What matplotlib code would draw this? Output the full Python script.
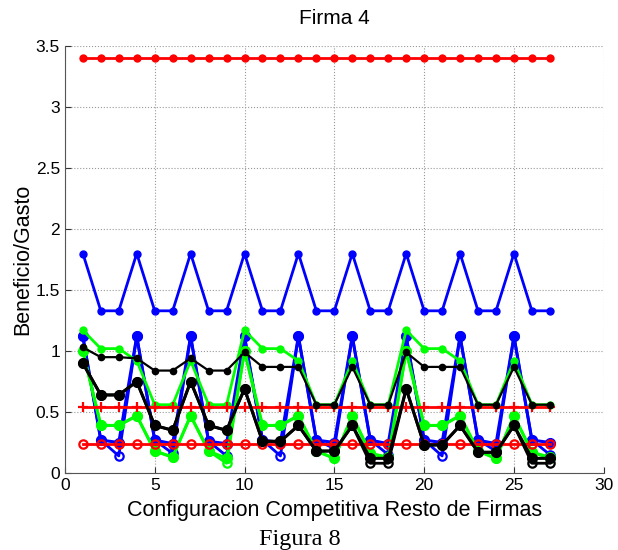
import numpy as np
import matplotlib
matplotlib.use("Agg")
import matplotlib.pyplot as plt
from matplotlib.ticker import FormatStrFormatter, MultipleLocator

plt.rcParams['font.family'] = 'sans-serif'
plt.rcParams['font.sans-serif'] = ['Liberation Sans', 'DejaVu Sans']

# configuraciones competitivas del resto de firmas
config = np.arange(1, 28)

red_top = [3.4, 3.4, 3.4, 3.4, 3.4, 3.4, 3.4, 3.4, 3.4, 3.4, 3.4, 3.4, 3.4, 3.4,
           3.4, 3.4, 3.4, 3.4, 3.4, 3.4, 3.4, 3.4, 3.4, 3.4, 3.4, 3.4, 3.4]
red_plus = [0.54, 0.54, 0.54, 0.54, 0.54, 0.54, 0.54, 0.54, 0.54, 0.54, 0.54, 0.54, 0.54, 0.54,
            0.54, 0.54, 0.54, 0.54, 0.54, 0.54, 0.54, 0.54, 0.54, 0.54, 0.54, 0.54, 0.54]
red_circ = [0.24, 0.24, 0.24, 0.24, 0.24, 0.24, 0.24, 0.24, 0.24, 0.24, 0.24, 0.24, 0.24, 0.24,
            0.24, 0.24, 0.24, 0.24, 0.24, 0.24, 0.24, 0.24, 0.24, 0.24, 0.24, 0.24, 0.24]

blue_top = [1.8, 1.33, 1.33, 1.8, 1.33, 1.33, 1.8, 1.33, 1.33, 1.8, 1.33, 1.33, 1.8, 1.33,
            1.33, 1.8, 1.33, 1.33, 1.8, 1.33, 1.33, 1.8, 1.33, 1.33, 1.8, 1.33, 1.33]
blue_mid = [1.12, 0.27, 0.25, 1.12, 0.27, 0.24, 1.12, 0.26, 0.24, 1.12, 0.27, 0.25, 1.12, 0.27,
            0.25, 1.12, 0.27, 0.24, 1.12, 0.27, 0.25, 1.12, 0.27, 0.24, 1.12, 0.27, 0.25]
blue_low = [1.12, 0.27, 0.14, 1.12, 0.27, 0.16, 1.12, 0.26, 0.14, 1.12, 0.27, 0.14, 1.12, 0.27,
            0.20, 1.12, 0.27, 0.15, 1.12, 0.27, 0.14, 1.12, 0.27, 0.18, 1.12, 0.27, 0.15]

green_top = [1.17, 1.02, 1.02, 0.92, 0.56, 0.56, 0.92, 0.56, 0.56, 1.17, 1.02, 1.02, 0.92, 0.56,
             0.56, 0.92, 0.56, 0.56, 1.17, 1.02, 1.02, 0.92, 0.56, 0.56, 0.92, 0.56, 0.56]
green_mid = [1.0, 0.39, 0.39, 0.47, 0.18, 0.13, 0.47, 0.18, 0.12, 1.0, 0.39, 0.39, 0.47, 0.18,
             0.12, 0.47, 0.16, 0.13, 1.0, 0.39, 0.39, 0.47, 0.18, 0.12, 0.47, 0.17, 0.13]
green_low = [1.0, 0.39, 0.39, 0.47, 0.18, 0.13, 0.47, 0.18, 0.08, 1.0, 0.39, 0.39, 0.47, 0.18,
             0.12, 0.47, 0.16, 0.12, 1.0, 0.39, 0.39, 0.47, 0.18, 0.12, 0.47, 0.17, 0.12]

black_top = [1.03, 0.95, 0.95, 0.94, 0.84, 0.84, 0.94, 0.84, 0.84, 0.99, 0.87, 0.87, 0.87, 0.56,
             0.56, 0.87, 0.56, 0.56, 0.99, 0.87, 0.87, 0.87, 0.56, 0.56, 0.87, 0.56, 0.56]
black_mid = [0.90, 0.64, 0.64, 0.75, 0.39, 0.35, 0.75, 0.39, 0.35, 0.69, 0.26, 0.26, 0.39, 0.18,
             0.18, 0.39, 0.12, 0.12, 0.69, 0.23, 0.23, 0.39, 0.17, 0.17, 0.39, 0.12, 0.12]
black_low = [0.90, 0.64, 0.64, 0.75, 0.39, 0.35, 0.75, 0.39, 0.35, 0.69, 0.26, 0.26, 0.39, 0.18,
             0.18, 0.39, 0.08, 0.08, 0.69, 0.23, 0.23, 0.39, 0.17, 0.17, 0.39, 0.08, 0.08]

fig = plt.figure(figsize=(6.18, 5.5), dpi=100)
ax = fig.add_axes([0.105, 0.14, 0.872, 0.776])

dot = dict(marker='o', markersize=5, linewidth=2.0)
big = dict(marker='o', markersize=7, linewidth=2.2)
ring = dict(marker='o', markersize=6, markerfacecolor='none', markeredgewidth=1.6, linewidth=2.0)

ax.plot(config, red_top, color='#ff0000', **dot)
ax.plot(config, blue_top, color='#0000ff', **dot)
ax.plot(config, blue_low, color='#0000ff', **ring)
ax.plot(config, blue_mid, color='#0000ff', **big)
ax.plot(config, green_low, color='#00ff00', **ring)
ax.plot(config, green_mid, color='#00ff00', **big)
ax.plot(config, green_top, color='#00ff00', **dot)
ax.plot(config, red_plus, color='#ff0000', marker='+', markersize=6.5, markeredgewidth=1.6, linewidth=2.0)
ax.plot(config, red_circ, color='#ff0000', **ring)
ax.plot(config, black_top, color='black', marker='o', markersize=4.5, linewidth=1.6)
ax.plot(config, black_low, color='black', **ring)
ax.plot(config, black_mid, color='black', **big)

ax.set_xlim(0, 30)
ax.set_ylim(0, 3.5)
ax.xaxis.set_major_locator(MultipleLocator(5))
ax.yaxis.set_major_locator(MultipleLocator(0.5))
ax.yaxis.set_major_formatter(FormatStrFormatter('%g'))
ax.grid(True, linestyle=':', color='#999999', linewidth=0.8)
ax.tick_params(direction='in', labelsize=12.5, length=4, colors='#333333', labelcolor='black')
ax.spines['top'].set_visible(False)
ax.spines['right'].set_visible(False)
ax.spines['left'].set_color('#555555')
ax.spines['bottom'].set_color('#555555')

ax.set_title('Firma 4', fontsize=15, pad=16)
ax.set_xlabel('Configuracion Competitiva Resto de Firmas', fontsize=15.5, labelpad=5)
ax.set_ylabel('Beneficio/Gasto', fontsize=15.5, labelpad=2)

fig.text(0.485, 0.01, 'Figura 8', fontsize=17.5, family='Liberation Serif', ha='center')

plt.savefig('out.png', dpi=100)
plt.close()
